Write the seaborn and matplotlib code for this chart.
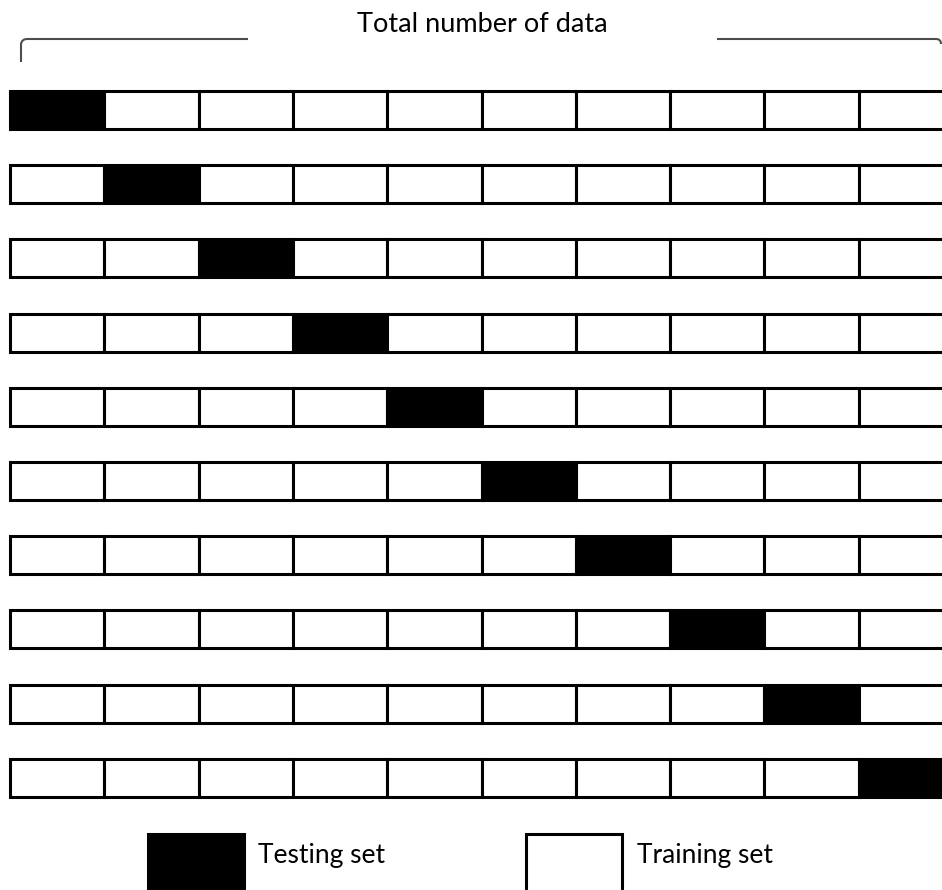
"""10-fold cross-validation split diagram."""
import matplotlib
matplotlib.use('Agg')
import matplotlib.pyplot as plt
from matplotlib.patches import Rectangle, PathPatch
from matplotlib.path import Path
import seaborn as sns

# data: one row per fold, test_block says which block is the testing set
n_blocks = 10
folds = list(range(10))
test_block = [0, 1, 2, 3, 4, 5, 6, 7, 8, 9]
title_text = 'Total number of data'
legend_labels = ['Testing set', 'Training set']
fill_colors = ['black', 'white']

W, H = 942, 890
sns.set_style('white')
plt.rcParams['font.family'] = ['Lato', 'DejaVu Sans']

fig = plt.figure(figsize=(W / 100, H / 100), dpi=100)
ax = fig.add_axes([0, 0, 1, 1])

# layout in pixels -> data units
x0_px, cell_px = 10, 94.3
row0_px, row_step_px, row_h_px = 110, 74.2, 38
ax.set_xlim(-x0_px / cell_px, (W - x0_px) / cell_px)
ax.set_ylim((H - row0_px) / row_step_px, -row0_px / row_step_px)

lw = 2.2
for fold, test in zip(folds, test_block):
    colors = [fill_colors[0] if b == test else fill_colors[1] for b in range(n_blocks)]
    ax.barh([fold] * n_blocks, [1] * n_blocks, left=list(range(n_blocks)),
            height=row_h_px / row_step_px, color=colors,
            edgecolor='black', linewidth=lw, align='center')

ax.axis('off')


def px(x, y):
    """pixel position -> axes fraction"""
    return (x / W, 1 - y / H)


# bracket with title
gray = '#4d4d4d'
left = Path([px(21, 62), px(21, 44), px(22, 39), px(27, 39), px(248, 39)],
            [Path.MOVETO, Path.LINETO, Path.CURVE3, Path.CURVE3, Path.LINETO])
right = Path([px(717, 39), px(936, 39), px(941, 39), px(941, 44)],
             [Path.MOVETO, Path.LINETO, Path.CURVE3, Path.CURVE3])
for p in (left, right):
    ax.add_patch(PathPatch(p, transform=ax.transAxes, fill=False,
                           edgecolor=gray, linewidth=1.5, clip_on=False))
ax.text(*px(482, 32), title_text, transform=ax.transAxes, ha='center',
        va='baseline', fontsize=19.5, color='black')

# legend boxes
box_x = [148, 526]
text_x = [258, 637]
for bx, tx, col, lab in zip(box_x, text_x, fill_colors, legend_labels):
    ax.add_patch(Rectangle(px(bx, 900), 96 / W, 66 / H, transform=ax.transAxes,
                           facecolor=col, edgecolor='black', linewidth=lw,
                           clip_on=False))
    ax.text(*px(tx, 863), lab, transform=ax.transAxes, ha='left',
            va='baseline', fontsize=19, color='black')

fig.savefig('out.png', dpi=100, facecolor='white')
